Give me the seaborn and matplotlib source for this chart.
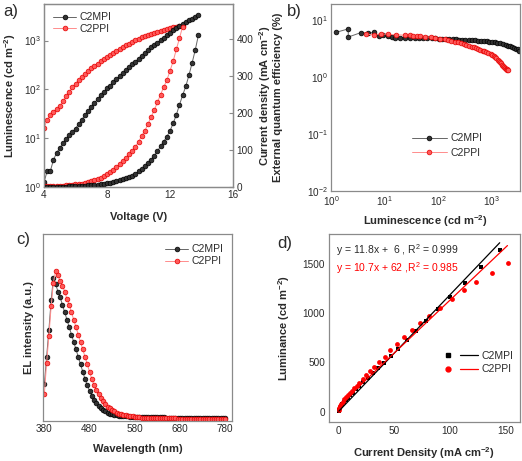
import matplotlib
matplotlib.use('Agg')
import matplotlib.pyplot as plt
import seaborn as sns
from matplotlib.lines import Line2D
from matplotlib.legend_handler import HandlerTuple
from matplotlib.ticker import NullLocator, LogLocator

# ---------- panel a: L-J-V ----------
volt_c2mpi = [4.0, 4.2, 4.4, 4.6, 4.8, 5.0, 5.2, 5.4, 5.6, 5.8,
              6.0, 6.2, 6.4, 6.6, 6.8, 7.0, 7.2, 7.4, 7.6, 7.8,
              8.0, 8.2, 8.4, 8.6, 8.8, 9.0, 9.2, 9.4, 9.6, 9.8,
              10.0, 10.2, 10.4, 10.6, 10.8, 11.0, 11.2, 11.4, 11.6, 11.8,
              12.0, 12.2, 12.4, 12.6, 12.8, 13.0, 13.2, 13.4, 13.6, 13.8]
lum_c2mpi = [1.26, 2.1, 2.1, 3.6, 5.0, 6.3, 7.8, 9.5, 11.5, 13.5,
             15.8, 19.5, 24, 29.5, 36.3, 43.6, 52.5, 63, 76, 89,
             105, 120, 141, 162, 186, 214, 245, 282, 324, 372,
             427, 490, 562, 631, 724, 813, 912, 1023, 1148, 1288,
             1445, 1622, 1820, 1995, 2188, 2399, 2630, 2818, 3090, 3311]
j_c2mpi = [0.3, 0.4, 0.5, 0.6, 0.7, 0.8, 1.0, 1.2, 1.4, 1.7,
           2.0, 2.4, 2.9, 3.5, 4.2, 5.0, 5.8, 6.7, 7.7, 8.8,
           10, 11.5, 13, 15, 18, 21, 24, 27, 31, 36,
           42, 48, 56, 65, 74, 85, 97, 110, 123, 136,
           152, 172, 195, 222, 248, 272, 302, 335, 370, 410]

volt_c2ppi = [4.0, 4.2, 4.4, 4.6, 4.8, 5.0, 5.2, 5.4, 5.6, 5.8,
              6.0, 6.2, 6.4, 6.6, 6.8, 7.0, 7.2, 7.4, 7.6, 7.8,
              8.0, 8.2, 8.4, 8.6, 8.8, 9.0, 9.2, 9.4, 9.6, 9.8,
              10.0, 10.2, 10.4, 10.6, 10.8, 11.0, 11.2, 11.4, 11.6, 11.8,
              12.0, 12.2, 12.4, 12.6, 12.8]
lum_c2ppi = [16.2, 24, 29.5, 34.7, 39.8, 45.7, 57.5, 72.4, 89, 110,
             132, 155, 178, 204, 234, 269, 302, 339, 380, 427,
             468, 513, 562, 617, 676, 724, 794, 871, 955, 1023,
             1096, 1175, 1230, 1318, 1380, 1445, 1514, 1585, 1660, 1738,
             1778, 1862, 1905, 1950, 1995]
j_c2ppi = [1.5, 1.8, 2.1, 2.5, 2.9, 3.4, 3.9, 4.5, 5.2, 6.0,
           7.0, 8.0, 9.2, 10.6, 12.5, 15, 18, 21, 25, 30,
           36, 41, 47, 54, 62, 71, 79, 88, 98, 109,
           122, 138, 152, 170, 189, 208, 229, 250, 270, 289,
           314, 340, 372, 402, 434]

# ---------- panel b: EQE vs luminescence ----------
eqe_c2mpi = [6.2, 7.1, 5.1, 6.1, 5.9, 6.2, 5.4, 5.5, 5.3, 5.1,
             5.0, 5.0, 4.9, 4.9, 4.9, 4.9, 4.9, 4.9, 4.9, 4.85,
             4.8, 4.8, 4.75, 4.7, 4.7, 4.65, 4.6, 4.6, 4.55, 4.5,
             4.5, 4.45, 4.4, 4.4, 4.35, 4.3, 4.25, 4.2, 4.15, 4.05,
             3.95, 3.85, 3.7, 3.6, 3.5, 3.4, 3.3, 3.2, 3.1, 2.95]
lum_low_c2ppi = [4.6, 6.3, 8.5, 11.5]
eqe_low_c2ppi = [5.7, 5.6, 5.8, 5.7]
eqe_c2ppi = [5.6, 5.5, 5.5, 5.4, 5.4, 5.3, 5.2, 5.05, 4.95, 4.8,
             4.65, 4.5, 4.35, 4.2, 4.1, 3.95, 3.8, 3.7, 3.55, 3.45,
             3.35, 3.25, 3.15, 3.05, 2.95, 2.85, 2.75, 2.65, 2.55, 2.45,
             2.35, 2.25, 2.15, 2.05, 1.95, 1.85, 1.75, 1.65, 1.57, 1.5,
             1.45, 1.42, 1.38, 1.36, 1.35]

# ---------- panel c: EL spectra ----------
wavelength = [380, 385, 390, 395, 400, 405, 410, 415, 420, 425,
              430, 435, 440, 445, 450, 455, 460, 465, 470, 475,
              480, 485, 490, 495, 500, 505, 510, 515, 520, 525,
              530, 535, 540, 545, 550, 555, 560, 565, 570, 575,
              580, 585, 590, 595, 600, 605, 610, 615, 620, 625,
              630, 635, 640, 645, 650, 655, 660, 665, 670, 675,
              680, 685, 690, 695, 700, 705, 710, 715, 720, 725,
              730, 735, 740, 745, 750, 755, 760, 765, 770, 775, 780]
el_c2mpi = [0.24, 0.42, 0.60, 0.80, 0.95, 0.91, 0.86, 0.82, 0.77, 0.72,
            0.67, 0.62, 0.57, 0.52, 0.47, 0.42, 0.37, 0.32, 0.27, 0.23,
            0.19, 0.16, 0.13, 0.11, 0.09, 0.075, 0.063, 0.053, 0.045, 0.039,
            0.034, 0.030, 0.027, 0.025, 0.023, 0.021, 0.020, 0.019, 0.018, 0.018,
            0.017, 0.017, 0.016, 0.016, 0.015, 0.015, 0.015, 0.014, 0.014, 0.014,
            0.013, 0.013, 0.013, 0.013, 0.012, 0.012, 0.012, 0.012, 0.011, 0.011,
            0.011, 0.011, 0.010, 0.010, 0.010, 0.010, 0.010, 0.009, 0.009, 0.009,
            0.009, 0.009, 0.008, 0.008, 0.008, 0.008, 0.008, 0.007, 0.007, 0.007, 0.007]
el_c2ppi = [0.17, 0.38, 0.56, 0.76, 0.92, 1.00, 0.97, 0.93, 0.90, 0.86,
            0.81, 0.77, 0.72, 0.67, 0.62, 0.57, 0.52, 0.47, 0.42, 0.37,
            0.32, 0.27, 0.23, 0.20, 0.17, 0.14, 0.12, 0.10, 0.085, 0.074,
            0.062, 0.053, 0.045, 0.038, 0.033, 0.030, 0.027, 0.024, 0.021, 0.019,
            0.017, 0.015, 0.013, 0.012, 0.011, 0.010, 0.010, 0.009, 0.009, 0.008,
            0.008, 0.008, 0.007, 0.007, 0.007, 0.006, 0.006, 0.006, 0.006, 0.005,
            0.005, 0.005, 0.005, 0.005, 0.004, 0.004, 0.004, 0.004, 0.004, 0.004,
            0.003, 0.003, 0.003, 0.003, 0.003, 0.003, 0.003, 0.003, 0.003, 0.003, 0.003]

# ---------- panel d: luminance vs current density ----------
jd_c2mpi = [0.0, 0.1, 0.6, 1.5, 2.7, 4.2, 6.0, 8.1, 10.2, 12.6,
            15.4, 18.4, 22.0, 25.9, 30.4, 35.5, 41.0, 47.0, 53.6, 61.1,
            69.6, 78.7, 89.2, 100.6, 113.3, 128.4, 145.2]
ld_c2mpi = [8, 18, 35, 55, 76, 96, 120, 143, 167, 194,
            228, 261, 299, 342, 390, 441, 498, 569, 637, 729,
            823, 925, 1040, 1169, 1311, 1474, 1643]
jd_c2ppi = [0.0, 0.4, 1.0, 2.2, 3.4, 4.9, 6.4, 8.2, 10.0, 11.8,
            13.9, 16.0, 18.4, 21.3, 24.4, 28.3, 31.9, 36.4, 41.6, 46.4,
            52.4, 59.0, 66.0, 73.5, 81.6, 91.3, 102.2, 112.7, 123.9, 138.0, 152.5]
ld_c2ppi = [16, 37, 57, 81, 101, 125, 145, 166, 189, 213,
            237, 264, 295, 332, 373, 414, 454, 508, 559, 624,
            685, 756, 830, 905, 976, 1057, 1145, 1237, 1321, 1413, 1508]
fit_c2mpi = (11.8, 6)      # slope, intercept
fit_c2ppi = (10.7, 62)
fit_range_c2mpi = [0, 145]
fit_range_c2ppi = [0, 152]

# ---------- style ----------
sns.set_style('white')
plt.rcParams['font.family'] = ['Liberation Sans', 'DejaVu Sans']
plt.rcParams['mathtext.fontset'] = 'custom'
plt.rcParams['mathtext.rm'] = 'Liberation Sans'
plt.rcParams['mathtext.it'] = 'Liberation Sans:italic'
plt.rcParams['mathtext.bf'] = 'Liberation Sans:bold'

SPINE = '#8a8a8a'
TXT = '#2a2a2a'
blk = dict(color='#666666', marker='o', markersize=3.4, markerfacecolor='#333333',
           markeredgecolor='black', markeredgewidth=0.5, linewidth=0.7)
red = dict(color='#ff8c8c', marker='o', markersize=3.4, markerfacecolor='#ff5a5a',
           markeredgecolor='#e60000', markeredgewidth=0.5, linewidth=0.7)

fig = plt.figure(figsize=(5.22, 4.61), dpi=100)


def box(l, t, r, b):
    return [l / 522, 1 - b / 461, (r - l) / 522, (b - t) / 461]


def style_axes(ax):
    for s in ax.spines.values():
        s.set_color(SPINE)
        s.set_linewidth(0.9)
    ax.tick_params(which='both', direction='in', colors=SPINE, labelcolor=TXT,
                   labelsize=7.2, pad=2.5)
    ax.tick_params(which='major', length=3, width=0.8)
    ax.tick_params(which='minor', length=1.5, width=0.6)


lab = dict(fontsize=8, fontweight='bold', color=TXT)

# ---- a ----
ax_a = fig.add_axes(box(44, 4, 233, 187))
ax_a2 = ax_a.twinx()
ax_a.set_yscale('log')
sns.lineplot(x=volt_c2ppi, y=lum_c2ppi, ax=ax_a, estimator=None, sort=False, **red)
sns.lineplot(x=volt_c2mpi, y=lum_c2mpi, ax=ax_a, estimator=None, sort=False, **blk)
sns.lineplot(x=volt_c2ppi, y=j_c2ppi, ax=ax_a2, estimator=None, sort=False, **red)
sns.lineplot(x=volt_c2mpi, y=j_c2mpi, ax=ax_a2, estimator=None, sort=False, **blk)
ax_a.set_xlim(4, 16)
ax_a.set_xticks([4, 8, 12, 16])
ax_a.set_ylim(1, 5620)
ax_a.yaxis.set_major_locator(LogLocator(base=10, numticks=6))
ax_a.yaxis.set_minor_locator(NullLocator())
ax_a2.set_ylim(0, 495)
ax_a2.set_yticks([0, 100, 200, 300, 400])
style_axes(ax_a)
style_axes(ax_a2)
ax_a.set_xlabel('Voltage (V)', **lab)
ax_a.set_ylabel(r'Luminescence (cd m$^{\mathbf{-2}}$)', **lab)
ax_a2.set_ylabel(r'Current density (mA cm$^{\mathbf{-2}}$)', **lab)
ax_a.xaxis.set_label_coords(0.5, -0.135)
ax_a.yaxis.set_label_coords(-0.14, 0.5)
ax_a2.yaxis.set_label_coords(1.128, 0.5)
h_blk = Line2D([], [], **blk)
h_red = Line2D([], [], **red)
ax_a.legend([h_blk, h_red], ['C2MPI', 'C2PPI'], loc='upper left', frameon=False,
            bbox_to_anchor=(0.05, 0.955), borderpad=0, borderaxespad=0,
            handlelength=2.2, handletextpad=0.3, labelspacing=0.15,
            fontsize=7.5, labelcolor=TXT)

# ---- b ----
ax_b = fig.add_axes(box(331, 4, 520, 190.7))
ax_b.set_xscale('log')
ax_b.set_yscale('log')
sns.lineplot(x=lum_c2mpi, y=eqe_c2mpi, ax=ax_b, estimator=None, sort=False, **blk)
sns.lineplot(x=lum_low_c2ppi + lum_c2ppi, y=eqe_low_c2ppi + eqe_c2ppi, ax=ax_b,
             estimator=None, sort=False, **red)
ax_b.set_xlim(1, 3390)
ax_b.set_ylim(0.01, 19.5)
ax_b.xaxis.set_major_locator(LogLocator(base=10, numticks=6))
ax_b.yaxis.set_major_locator(LogLocator(base=10, numticks=6))
ax_b.xaxis.set_minor_locator(LogLocator(base=10, subs=range(2, 10), numticks=12))
ax_b.yaxis.set_minor_locator(LogLocator(base=10, subs=range(2, 10), numticks=12))
style_axes(ax_b)
ax_b.set_xlabel(r'Luminescence (cd m$^{\mathbf{-2}}$)', **lab)
ax_b.set_ylabel('External quantum efficiency (%)', **lab)
ax_b.xaxis.set_label_coords(0.5, -0.12)
ax_b.yaxis.set_label_coords(-0.255, 0.5)
ax_b.legend([h_blk, h_red], ['C2MPI', 'C2PPI'], loc='lower right', frameon=False,
            bbox_to_anchor=(0.80, 0.175), borderpad=0, borderaxespad=0,
            handlelength=3.4, handletextpad=0.3, labelspacing=0.45,
            fontsize=7.5, labelcolor=TXT)

# ---- c ----
ax_c = fig.add_axes(box(43, 234, 232, 420.7))
sns.lineplot(x=wavelength, y=el_c2mpi, ax=ax_c, estimator=None, sort=False, **blk)
sns.lineplot(x=wavelength, y=el_c2ppi, ax=ax_c, estimator=None, sort=False, **red)
ax_c.set_xlim(377, 795)
ax_c.set_xticks([380, 480, 580, 680, 780])
ax_c.set_ylim(-0.0094, 1.247)
ax_c.set_yticks([])
style_axes(ax_c)
ax_c.set_xlabel('Wavelength (nm)', **lab)
ax_c.set_ylabel('EL intensity (a.u.)', **lab)
ax_c.xaxis.set_label_coords(0.5, -0.125)
ax_c.yaxis.set_label_coords(-0.05, 0.5)
ax_c.legend([h_blk, h_red], ['C2MPI', 'C2PPI'], loc='upper right', frameon=False,
            bbox_to_anchor=(0.955, 0.945), borderpad=0, borderaxespad=0,
            handlelength=2.3, handletextpad=0.3, labelspacing=0.2,
            fontsize=7.5, labelcolor=TXT)

# ---- d ----
ax_d = fig.add_axes(box(328.7, 234, 520, 422.3))
sns.scatterplot(x=jd_c2mpi, y=ld_c2mpi, ax=ax_d, marker='s', s=10, color='black',
                linewidth=0, legend=False)
sns.scatterplot(x=jd_c2ppi, y=ld_c2ppi, ax=ax_d, marker='o', s=12, color='red',
                linewidth=0, legend=False)
fit_y_mpi = [fit_c2mpi[0] * x + fit_c2mpi[1] for x in fit_range_c2mpi]
fit_y_ppi = [fit_c2ppi[0] * x + fit_c2ppi[1] for x in fit_range_c2ppi]
sns.lineplot(x=fit_range_c2mpi, y=fit_y_mpi, ax=ax_d, color='black', linewidth=0.9,
             estimator=None, sort=False)
sns.lineplot(x=fit_range_c2ppi, y=fit_y_ppi, ax=ax_d, color='red', linewidth=0.9,
             estimator=None, sort=False)
ax_d.set_xlim(-9.2, 163.3)
ax_d.set_xticks([0, 50, 100, 150])
ax_d.set_ylim(-108, 1806)
ax_d.set_yticks([0, 500, 1000, 1500])
style_axes(ax_d)
ax_d.set_xlabel(r'Current Density (mA cm$^{\mathbf{-2}}$)', **lab)
ax_d.set_ylabel(r'Luminance (cd m$^{\mathbf{-2}}$)', **lab)
ax_d.xaxis.set_label_coords(0.5, -0.12)
ax_d.yaxis.set_label_coords(-0.19, 0.5)
ax_d.text(0.038, 0.914, r'y = 11.8x +  6 , R$^2$ = 0.999', transform=ax_d.transAxes,
          fontsize=7.5, color=TXT, va='center', ha='left')
ax_d.text(0.038, 0.821, r'y = 10.7x + 62 ,R$^2$ = 0.985', transform=ax_d.transAxes,
          fontsize=7.5, color='red', va='center', ha='left')
hd = [(Line2D([], [], marker='s', color='black', linestyle='none', markersize=3.5),
       Line2D([], [], color='black', linewidth=0.9)),
      (Line2D([], [], marker='o', color='red', linestyle='none', markersize=3.5),
       Line2D([], [], color='red', linewidth=0.9))]
ax_d.legend(hd, ['C2MPI', 'C2PPI'], handler_map={tuple: HandlerTuple(ndivide=None, pad=0.3)},
            loc='lower right', frameon=False, bbox_to_anchor=(0.965, 0.255),
            borderpad=0, borderaxespad=0, handlelength=3.8, handletextpad=0.3,
            labelspacing=0.35, fontsize=7.5, labelcolor=TXT)

# panel letters
for lbl, x, y in [('a)', 3, 4), ('b)', 287, 4), ('c)', 16, 232), ('d)', 277, 236)]:
    fig.text(x / 522, 1 - y / 461, lbl, fontsize=12, color=TXT, va='top', ha='left')

fig.savefig('out.png', dpi=100)
